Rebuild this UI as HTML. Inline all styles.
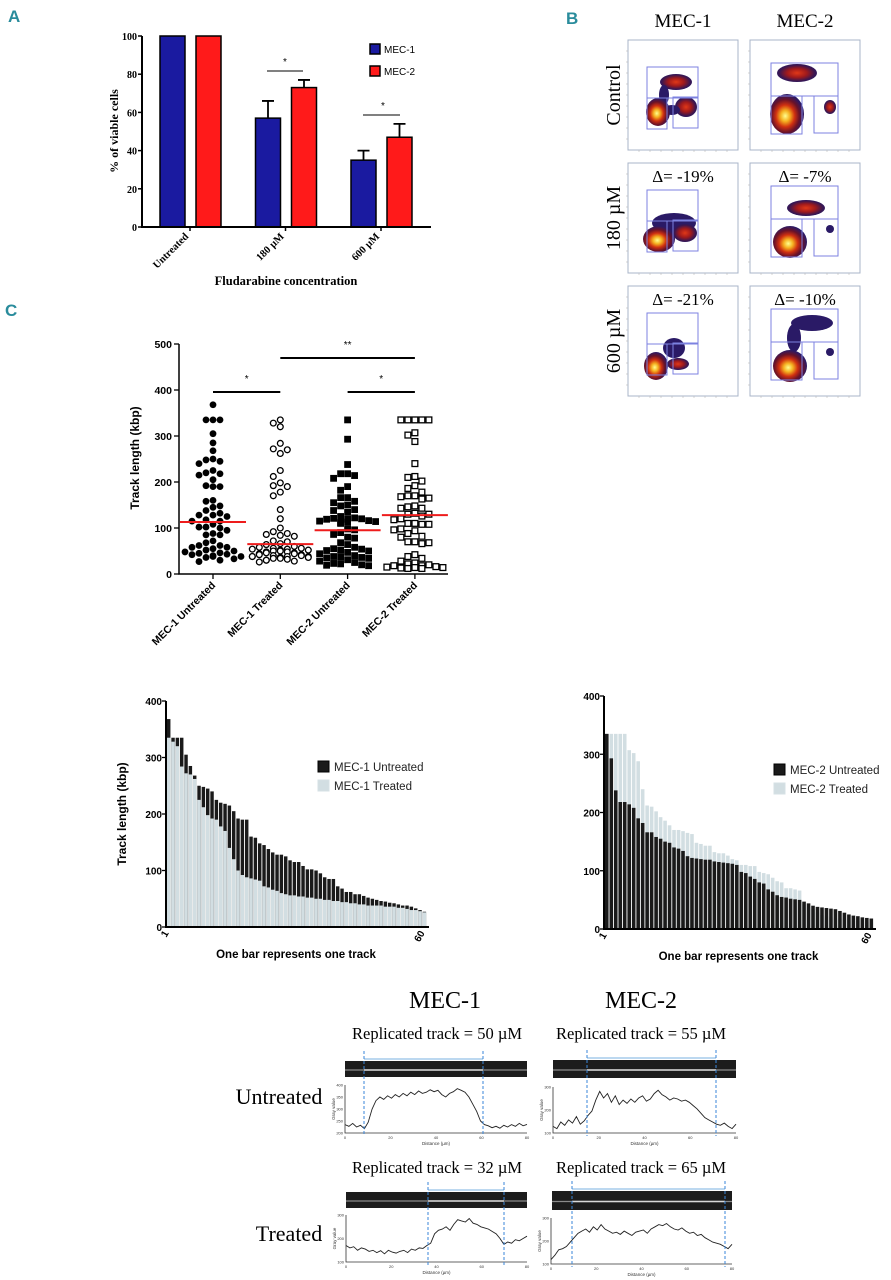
<!DOCTYPE html>
<html><head><meta charset="utf-8">
<style>
html,body{margin:0;padding:0;background:#fff;}
svg{display:block;}
.serif{font-family:"Liberation Serif",serif;}
.sans{font-family:"Liberation Sans",sans-serif;}
</style></head>
<body>
<svg id="fig" width="891" height="1280" viewBox="0 0 891 1280" xmlns="http://www.w3.org/2000/svg">
<defs>
<radialGradient id="heat" cx="45%" cy="55%" r="55%">
<stop offset="0" stop-color="#ffff90"/><stop offset="0.25" stop-color="#f5b020"/><stop offset="0.5" stop-color="#d03010"/><stop offset="0.75" stop-color="#6a1228"/><stop offset="1" stop-color="#2a1a66"/>
</radialGradient>
<radialGradient id="heat2" cx="50%" cy="50%" r="55%">
<stop offset="0" stop-color="#e03818"/><stop offset="0.45" stop-color="#a01a1c"/><stop offset="0.8" stop-color="#3a1650"/><stop offset="1" stop-color="#2a1a66"/>
</radialGradient>
</defs>
<text x="8" y="22" class="sans" font-size="17" font-weight="bold" fill="#2a8c9c">A</text>
<text x="566" y="24" class="sans" font-size="17" font-weight="bold" fill="#2a8c9c">B</text>
<text x="5" y="316" class="sans" font-size="17" font-weight="bold" fill="#2a8c9c">C</text>
</svg>
<script>
const NS='http://www.w3.org/2000/svg';
const svg=document.getElementById('fig');
function mk(tag,attrs,parent){const e=document.createElementNS(NS,tag);for(const k in attrs)e.setAttribute(k,attrs[k]);(parent||svg).appendChild(e);return e;}
function txt(s,attrs,parent){const e=mk('text',attrs,parent);e.textContent=s;return e;}

/* ---------- Panel A data ---------- */
const aCategories=['Untreated','180 µM','600 µM'];
const aMec1=[100,57,35];
const aMec1Err=[0,9,5];
const aMec2=[100,73,47];
const aMec2Err=[0,4,7];
const aTicks=[0,20,40,60,80,100];

/* ---------- Panel C scatter data (also used for sorted bar charts) ---------- */
const mec1Untreated=[368,335,335,335,305,285,268,250,248,245,240,225,220,218,215,205,192,190,190,160,158,148,145,138,132,128,128,125,118,115,115,108,102,102,100,95,88,85,85,72,68,62,62,58,58,55,52,50,48,46,45,43,42,40,38,38,36,33,30,27];
const mec1Treated=[335,328,320,284,272,270,262,225,212,198,192,190,178,170,140,120,100,92,88,86,84,82,72,70,66,64,60,58,56,56,54,54,52,52,50,50,48,48,46,46,44,44,42,42,40,40,38,38,38,38,36,36,36,34,34,32,30,30,28,26];
const mec2Untreated=[335,293,238,218,218,214,208,190,182,166,166,158,155,150,148,140,138,134,125,122,121,120,119,119,116,115,114,113,112,110,98,96,90,86,80,78,68,64,58,55,54,52,51,50,47,44,40,38,37,36,35,34,31,28,25,23,22,20,19,18];
const mec2Treated=[335,335,335,335,335,307,302,288,240,212,210,202,192,186,178,170,170,168,165,163,148,146,143,143,132,130,130,126,120,118,110,110,108,108,98,96,94,88,82,80,70,70,68,66,42,38,34,28,24,22,20,18,18,16,15,14,14,13,12,12];
const cCategories=['MEC-1 Untreated','MEC-1 Treated','MEC-2 Untreated','MEC-2 Treated'];
const cMedians=[113,65,95,128];
const cTicks=[0,100,200,300,400,500];
const barTicks=[0,100,200,300,400];

/* ---------- Profile data (gray value vs distance) ---------- */
const prof1U=[235,228,240,225,232,218,245,300,335,350,340,355,345,360,350,365,355,370,360,375,365,370,380,372,378,360,350,365,372,385,378,370,350,320,290,250,235,230,222,228,220,232,225,235,228,240,230,236];
const prof2U=[130,120,150,135,160,145,175,140,155,180,200,250,290,260,280,240,270,230,250,235,255,240,260,270,245,255,280,295,275,265,250,260,255,245,250,240,225,210,190,170,160,150,140,135,145,130,120,140];
const prof1T=[170,160,165,150,160,155,145,150,140,148,135,150,142,138,145,150,140,155,150,160,158,170,180,220,235,240,250,235,260,280,275,270,285,265,260,250,245,240,230,220,200,175,185,180,195,190,200,210];
const prof2T=[120,140,165,170,180,200,220,240,250,260,245,270,255,280,260,250,240,245,235,250,240,230,245,250,255,240,260,270,280,275,285,270,260,255,265,250,240,245,230,235,220,210,200,195,190,180,170,190];

/* ================= PANEL A ================= */
(function(){
const g=mk('g',{});


const yA=v=>227-v*1.91;
const cx=i=>190+i*95.5;
aTicks.forEach(t=>{
  const l=mk('line',{x1:138,x2:142,y1:yA(t),y2:yA(t),stroke:'#000','stroke-width':1.5},g);
  
  
  const tx=txt(t,{x:137,y:yA(t)+4,'text-anchor':'end','font-size':10,'font-weight':'bold',class:'serif'},g);
  
  
});
aCategories.forEach((c,i)=>{
  [[aMec1,aMec1Err,'#1a1aa0',-30],[aMec2,aMec2Err,'#ff1a1a',6]].forEach(([vals,errs,col,off],k)=>{
    const x=cx(i)+off,w=25;
    const b=mk('rect',{x:x,y:yA(vals[i]),width:w,height:yA(0)-yA(vals[i]),fill:col,stroke:'#000','stroke-width':1.5},g);
    
    
    if(errs[i]>0){
      const e=mk('path',{d:`M${x+w/2},${yA(vals[i])} V${yA(vals[i]+errs[i])} M${x+w/2-6},${yA(vals[i]+errs[i])} H${x+w/2+6}`,stroke:'#000','stroke-width':1.8,fill:'none'},g);
      
      
    }
  });
  const tk=mk('line',{x1:cx(i),x2:cx(i),y1:227,y2:231,stroke:'#000','stroke-width':1.5},g);
  
  
  const lab=txt(c,{x:0,y:0,'text-anchor':'end','font-size':10.5,'font-weight':'bold',class:'serif',transform:`translate(${cx(i)-1},${237}) rotate(-45)`},g);
  
  
});
const ax=mk('path',{d:'M142,36 V227 H431',stroke:'#000','stroke-width':2,fill:'none'},g);


[[267,303,71,285],[363,400,115,383]].forEach(([a,b,y,s])=>{
  const l=mk('line',{x1:a,x2:b,y1:y,y2:y,stroke:'#000','stroke-width':1},g);
  
  
  const st=txt('*',{x:s,y:y-6,'text-anchor':'middle','font-size':10,class:'sans'},g);
  
  
});
[['MEC-1','#1a1aa0',44],['MEC-2','#ff1a1a',66]].forEach(([n,c,y])=>{
  const r=mk('rect',{x:370,y:y,width:10,height:10,fill:c,stroke:'#000','stroke-width':1.5},g);
  
  
  const t=txt(n,{x:384,y:y+9,'font-size':10,class:'sans'},g);
  
  
});
const yt=txt('% of viable cells',{x:0,y:0,'text-anchor':'middle','font-size':12,'font-weight':'bold',class:'serif',transform:'translate(118,131) rotate(-90)'},g);


const xt=txt('Fludarabine concentration',{x:286,y:285,'text-anchor':'middle','font-size':12.5,'font-weight':'bold',class:'serif'},g);


})();

/* ================= PANEL B (flow plots) ================= */
(function(){
const g=mk('g',{});


const colX=[628,750],rowY=[40,163,286];
['MEC-1','MEC-2'].forEach((h,i)=>{
  const t=txt(h,{x:colX[i]+55,y:27,'text-anchor':'middle','font-size':19,class:'serif'},g);
  
  
});
['Control','180 µM','600 µM'].forEach((h,j)=>{
  const t=txt(h,{x:0,y:0,'text-anchor':'middle','font-size':20,class:'serif',transform:`translate(${620},${rowY[j]+55}) rotate(-90)`},g);
  
  
});
const blobs=[
 [ [[48,42,16,8,'heat2'],[36,55,5,10,'navy'],[58,67,11,10,'heat2'],[44,70,8,5,'navy'],[30,72,12,14,'heat']],
   [[47,33,20,9,'heat2'],[37,74,17,20,'heat'],[80,67,6,7,'heat2']] ],
 [ [[46,60,22,10,'navy'],[57,70,12,9,'heat2'],[31,76,16,13,'heat']],
   [[56,45,19,8,'heat2'],[40,79,17,16,'heat'],[80,66,4,4,'navy']] ],
 [ [[46,62,11,10,'navy'],[50,78,11,6,'heat2'],[28,80,12,14,'heat']],
   [[62,37,21,8,'navy'],[44,52,7,14,'navy'],[40,80,17,16,'heat'],[80,66,4,4,'navy']] ]
];
const deltas=[[null,null],['Δ= -19%','Δ= -7%'],['Δ= -21%','Δ= -10%']];
rowY.forEach((y0,j)=>colX.forEach((x0,i)=>{
  const p=mk('g',{transform:`translate(${x0},${y0})`},g);
  
  
  mk('rect',{x:0,y:0,width:110,height:110,fill:'#fff',stroke:'#a8b4c8','stroke-width':1},p);
  for(let k=1;k<10;k++){mk('line',{x1:k*11,x2:k*11,y1:110,y2:112,stroke:'#bbb','stroke-width':0.6},p);mk('line',{x1:-2,x2:0,y1:k*11,y2:k*11,stroke:'#bbb','stroke-width':0.6},p);}
  blobs[j][i].forEach(([cx,cy,rx,ry,f])=>{
    const e=mk('ellipse',{cx:cx,cy:cy,rx:rx,ry:ry,fill:f==='navy'?'#2a1a66':`url(#${f})`},p);
    
    
  });
  const gs=i===0?[[19,27,51,31],[19,58,20,31],[45,57,25,31]]:[[21,23,67,33],[21,56,31,38],[64,56,24,37]];
  gs.forEach(([x,y,w,h])=>{
    const r=mk('rect',{x:x,y:y,width:w,height:h,fill:'none',stroke:'#7c82e0','stroke-width':1},p);
    
    
  });
  if(deltas[j][i]){
    const t=txt(deltas[j][i],{x:55,y:19,'text-anchor':'middle','font-size':17,class:'serif'},p);
    
    
  }
}));
})();

/* ================= PANEL C scatter ================= */
(function(){
const g=mk('g',{});


const yC=v=>574-v*0.46;
const cx=i=>213+i*67.3;
cTicks.forEach(t=>{
  const l=mk('line',{x1:174,x2:179,y1:yC(t),y2:yC(t),stroke:'#000','stroke-width':1.3},g);
  
  
  const tx=txt(t,{x:172,y:yC(t)+4,'text-anchor':'end','font-size':10.5,'font-weight':'bold',class:'sans'},g);
  
  
});
const groups=[mec1Untreated,mec1Treated,mec2Untreated,mec2Treated];
const slots=[0,-7,7,-14,14,-21,21,-28,28];
groups.forEach((vals,gi)=>{
  const placed=[];
  const sorted=vals.slice().sort((a,b)=>b-a);
  sorted.forEach((v,rank)=>{
    const y=yC(v);let x=null;
    for(let k=0;k<slots.length;k++){
      const xx=cx(gi)+slots[k];
      if(!placed.some(p=>Math.abs(p[0]-xx)<6.5&&Math.abs(p[1]-y)<6.5)){x=xx;break;}
    }
    if(x===null){
      let best=1e9;
      slots.forEach(s=>{const xx=cx(gi)+s;const c=placed.filter(p=>Math.abs(p[0]-xx)<6.5&&Math.abs(p[1]-y)<6.5).length;if(c<best){best=c;x=xx;}});
    }
    placed.push([x,y]);
    let m;
    if(gi<2) m=mk('circle',{cx:x,cy:y,r:gi===0?3.4:2.9,fill:gi===0?'#000':'#fff',stroke:'#000','stroke-width':gi===0?0:1.3},g);
    else m=mk('rect',{x:x-(gi===2?3.4:2.9),y:y-(gi===2?3.4:2.9),width:gi===2?6.8:5.8,height:gi===2?6.8:5.8,fill:gi===2?'#000':'#fff',stroke:'#000','stroke-width':gi===2?0:1.3},g);
    
    
  });
  const md=mk('line',{x1:cx(gi)-33,x2:cx(gi)+33,y1:yC(cMedians[gi]),y2:yC(cMedians[gi]),stroke:'#ee1c1c','stroke-width':2},g);
  
  
  const tk=mk('line',{x1:cx(gi),x2:cx(gi),y1:574,y2:579,stroke:'#000','stroke-width':1.3},g);
  
  
  const lab=txt(cCategories[gi],{x:0,y:0,'text-anchor':'end','font-size':10.5,'font-weight':'bold',class:'sans',transform:`translate(${cx(gi)+3},${586}) rotate(-45)`},g);
  
  
});
const ax=mk('path',{d:'M179,344 V574 H448',stroke:'#000','stroke-width':1.5,fill:'none'},g);


[[cx(0),cx(1),392,'*'],[cx(2),cx(3),392,'*'],[cx(1),cx(3),358,'**']].forEach(([a,b,y,s])=>{
  const l=mk('line',{x1:a,x2:b,y1:y,y2:y,stroke:'#000','stroke-width':2},g);
  
  
  const t=txt(s,{x:(a+b)/2,y:y-10,'text-anchor':'middle','font-size':10,class:'sans'},g);
  
  
});
const yt=txt('Track length (kbp)',{x:0,y:0,'text-anchor':'middle','font-size':12,'font-weight':'bold',class:'sans',transform:'translate(139,458) rotate(-90)'},g);


})();

/* ================= Sorted bar charts ================= */
function barChart(name,x0,x1,y0,y400,back,front,backCol,frontCol,legX,legY,legNames,legCols,ytitle,titleX){
  const g=mk('g',{});
  
  
  const y=v=>y0-v*(y0-y400)/400;
  const step=(x1-x0)/back.length;
  [[back,backCol],[front,frontCol]].forEach(([vals,col],k)=>{
    vals.forEach((v,i)=>{
      const r=mk('rect',{x:x0+1+i*step,y:y(v),width:step-0.9,height:y0-y(v),fill:col},g);
      
      
    });
  });
  barTicks.forEach(t=>{
    const l=mk('line',{x1:x0-4,x2:x0,y1:y(t),y2:y(t),stroke:'#000','stroke-width':1.3},g);
    
    
    const tx=txt(t,{x:x0-4,y:y(t)+4,'text-anchor':'end','font-size':10,'font-weight':'bold',class:'sans'},g);
    
    
  });
  const ax=mk('path',{d:`M${x0},${y400} V${y0} H${x1+3}`,stroke:'#000','stroke-width':2,fill:'none'},g);
  
  
  [['1',x0+3],['60',x1-1]].forEach(([s,x])=>{
    const t=txt(s,{x:0,y:0,'text-anchor':'end','font-size':10,'font-weight':'bold',class:'sans',transform:`translate(${x},${y0+6}) rotate(-60)`},g);
    
    
  });
  legNames.forEach((n,k)=>{
    const r=mk('rect',{x:legX,y:legY+k*19,width:11,height:11,fill:legCols[k],stroke:k?'#d6e0e4':'#000','stroke-width':1},g);
    
    
    const t=txt(n,{x:legX+16,y:legY+k*19+10,'font-size':11.5,class:'sans',fill:'#222'},g);
    
    
  });
  if(ytitle){
    const yt=txt(ytitle,{x:0,y:0,'text-anchor':'middle','font-size':12,'font-weight':'bold',class:'sans',transform:`translate(${titleX},${(y0+y400)/2}) rotate(-90)`},g);
    
    
  }
  const xt=txt('One bar represents one track',{x:(x0+x1)/2,y:y0+31,'text-anchor':'middle','font-size':11.5,'font-weight':'bold',class:'sans'},g);
  
  
}
barChart('mec1-sorted-bar-chart',166,426,927,701,mec1Untreated,mec1Treated,'#1a1a1a','#d2dee2',318,761,['MEC-1 Untreated','MEC-1 Treated'],['#1a1a1a','#d2dee2'],'Track length (kbp)',126);
barChart('mec2-sorted-bar-chart',604,873,929,696,mec2Treated,mec2Untreated,'#d2dee2','#1a1a1a',774,764,['MEC-2 Untreated','MEC-2 Treated'],['#1a1a1a','#d2dee2'],null,0);

/* ================= Fiber profiles ================= */
(function(){
const g=mk('g',{});


[['MEC-1',445],['MEC-2',641]].forEach(([s,x])=>{
  const t=txt(s,{x:x,y:1008,'text-anchor':'middle','font-size':24,class:'serif'},g);
  
  
});
[['Untreated',279,1104],['Treated',289,1241]].forEach(([s,x,y])=>{
  const t=txt(s,{x:x,y:y,'text-anchor':'middle','font-size':22,class:'serif'},g);
  
  
});
const panels=[
 {title:'Replicated track = 50 µM',tx:437,ty:1039,strip:[345,1061,182,16],plot:[345,1085,182,48],dash:[364,483],data:prof1U,lo:200,hi:400,ticks:['200','250','300','350','400']},
 {title:'Replicated track = 55 µM',tx:641,ty:1039,strip:[553,1060,183,18],plot:[553,1087,183,46],dash:[587,716],data:prof2U,lo:100,hi:310,ticks:['100','200','300']},
 {title:'Replicated track = 32 µM',tx:437,ty:1173,strip:[346,1192,181,16],plot:[346,1215,181,47],dash:[428,504],data:prof1T,lo:100,hi:300,ticks:['100','200','300']},
 {title:'Replicated track = 65 µM',tx:641,ty:1173,strip:[552,1191,180,19],plot:[551,1218,181,46],dash:[572,725],data:prof2T,lo:100,hi:310,ticks:['100','200','300']}
];
panels.forEach(p=>{
  const t=txt(p.title,{x:p.tx,y:p.ty,'text-anchor':'middle','font-size':16.5,class:'serif'},g);
  
  
  const [sx,sy,sw,sh]=p.strip;
  const st=mk('rect',{x:sx,y:sy,width:sw,height:sh,fill:'#1c1c1c'},g);
  
  
  mk('line',{x1:sx,x2:sx+sw,y1:sy+sh/2+1,y2:sy+sh/2+1,stroke:'#8a8a8a','stroke-width':1.2},g);
  mk('line',{x1:p.dash[0],x2:p.dash[1],y1:sy+sh/2+1,y2:sy+sh/2+1,stroke:'#d8d8d8','stroke-width':1.6},g);
  const br=mk('line',{x1:p.dash[0],x2:p.dash[1],y1:sy-2,y2:sy-2,stroke:'#7ab0e0','stroke-width':1},g);
  
  
  const [px,py,pw,ph]=p.plot;
  const ax=mk('path',{d:`M${px},${py} V${py+ph} H${px+pw}`,stroke:'#333','stroke-width':0.8,fill:'none'},g);
  
  
  const yv=v=>py+ph-(v-p.lo)/(p.hi-p.lo)*ph;
  const xv=i=>px+i*pw/(p.data.length-1);
  const line=mk('polyline',{points:p.data.map((v,i)=>`${xv(i).toFixed(1)},${yv(v).toFixed(1)}`).join(' '),fill:'none',stroke:'#222','stroke-width':0.9},g);
  
  
  p.ticks.forEach((s,k)=>{
    const tt=txt(s,{x:px-2,y:py+ph-k*ph/(p.ticks.length-1)+1.5,'text-anchor':'end','font-size':4,class:'sans',fill:'#333'},g);
    
    
  });
  ['0','20','40','60','80'].forEach((s,k)=>{
    const tt=txt(s,{x:px+k*pw/4,y:py+ph+6,'text-anchor':'middle','font-size':4,class:'sans',fill:'#333'},g);
    
    
  });
  const xl=txt('Distance (µm)',{x:px+pw/2,y:py+ph+12,'text-anchor':'middle','font-size':4.5,class:'sans',fill:'#333'},g);
  
  
  const yl=txt('Gray value',{x:0,y:0,'text-anchor':'middle','font-size':4.5,class:'sans',fill:'#333',transform:`translate(${px-10},${py+ph/2}) rotate(-90)`},g);
  
  
  p.dash.forEach(x=>{
    const d=mk('line',{x1:x,x2:x,y1:sy-10,y2:py+ph+3,stroke:'#3a86d8','stroke-width':1,'stroke-dasharray':'3,2'},g);
    
    
  });
});
})();
</script>
</body></html>
